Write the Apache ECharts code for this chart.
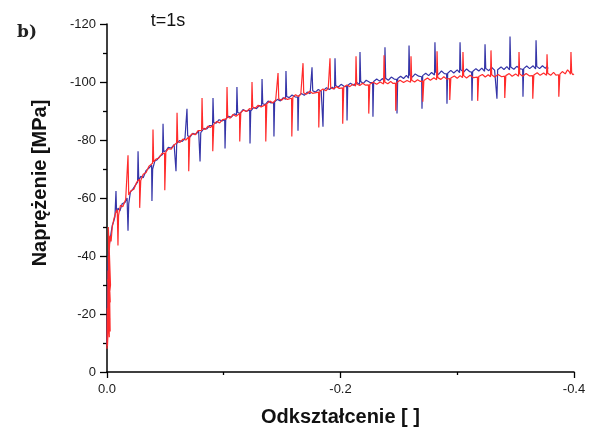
<!DOCTYPE html>
<html><head><meta charset="utf-8">
<script src="https://cdn.jsdelivr.net/npm/echarts@6/dist/echarts.min.js"></script>
<style>html,body{margin:0;padding:0;background:#fff}#c{width:591px;height:432px}</style>
</head><body><div id="c"></div>
<script>
// Axis ticks
const xTicks = [0, -0.2, -0.4];
const yTicks = [0, -20, -40, -60, -80, -100, -120];
const xTitle = 'Odkształcenie [ ]';
const yTitle = 'Naprężenie [MPa]';
const panelLabel = 'b)';
const timeLabel = 't=1s';

// Blue trace: [strain, stress MPa]
const blueData = [
[0.0000,-9.5],[-0.0003,-22],[-0.0006,-31],[-0.0009,-37],[-0.0013,-41],[-0.0018,-43.5],[-0.0026,-45.5],[-0.0035,-48],[-0.0045,-50.5],[-0.0058,-52],[-0.0068,-53.5],
[-0.0073,-54],[-0.0077,-62.4],[-0.0082,-55],[-0.0095,-56.5],[-0.0110,-55.5],[-0.0130,-58],[-0.0155,-58.5],[-0.0172,-60],[-0.0177,-60.5],[-0.0180,-48.7],[-0.0186,-58],[-0.0200,-62],[-0.0220,-63],[-0.0245,-64.5],[-0.0262,-65.5],
[-0.0266,-76.1],[-0.0272,-66],[-0.0290,-67.5],[-0.0310,-67],[-0.0335,-69.5],[-0.0360,-70.3],[-0.0382,-71.4],[-0.0385,-59.0],[-0.0391,-70],[-0.0410,-72.8],[-0.0430,-73.2],[-0.0455,-74.5],[-0.0476,-75],
[-0.0480,-85.6],[-0.0486,-76],[-0.0505,-76.3],[-0.0525,-77.5],[-0.0550,-77.2],[-0.0575,-78.4],[-0.0588,-78.5],[-0.0591,-69.2],[-0.0597,-78.8],[-0.0620,-79.8],[-0.0645,-79.5],[-0.0668,-80.6],[-0.0681,-80.5],
[-0.0685,-90.8],[-0.0691,-81.5],[-0.0710,-81],[-0.0735,-82.3],[-0.0760,-82],[-0.0785,-83],[-0.0794,-82.9],[-0.0797,-72.6],[-0.0803,-82.5],[-0.0830,-84],[-0.0855,-83.8],[-0.0880,-85],[-0.0904,-85],
[-0.0908,-94.5],[-0.0914,-86],[-0.0935,-85.8],[-0.0960,-87],[-0.0985,-86.6],[-0.1008,-87],[-0.1011,-77.1],[-0.1017,-87.2],[-0.1040,-88.2],[-0.1065,-87.9],[-0.1090,-89],[-0.1109,-88.7],
[-0.1113,-98.3],[-0.1119,-89.5],[-0.1140,-89.2],[-0.1165,-90.5],[-0.1190,-89.9],[-0.1222,-90.3],[-0.1225,-78.8],[-0.1231,-90],[-0.1255,-91.2],[-0.1280,-90.8],[-0.1305,-91.9],[-0.1324,-91.7],
[-0.1328,-101.0],[-0.1334,-92.5],[-0.1355,-92.2],[-0.1380,-93.4],[-0.1405,-92.8],[-0.1427,-93],[-0.1430,-81.2],[-0.1436,-93.2],[-0.1460,-94],[-0.1485,-93.5],[-0.1510,-94.6],[-0.1529,-94],
[-0.1533,-103.8],[-0.1539,-95],[-0.1560,-94.6],[-0.1585,-95.5],[-0.1610,-94.9],[-0.1633,-94.8],[-0.1636,-83.2],[-0.1642,-95.2],[-0.1665,-96],[-0.1690,-95.4],[-0.1715,-96.5],[-0.1740,-96],[-0.1752,-96.2],
[-0.1756,-105.1],[-0.1762,-97],[-0.1785,-96.5],[-0.1810,-97.4],[-0.1835,-96.8],[-0.1847,-96.8],[-0.1850,-84.6],[-0.1856,-97.2],[-0.1880,-98],[-0.1905,-97.4],[-0.1930,-98.2],[-0.1949,-97.6],
[-0.1953,-108.2],[-0.1959,-98.8],[-0.1980,-98.2],[-0.2005,-99.2],[-0.2030,-98.5],[-0.2053,-98.4],[-0.2056,-86.7],[-0.2062,-98.8],[-0.2085,-99.6],[-0.2110,-98.9],[-0.2140,-99.8],[-0.2163,-99.1],
[-0.2167,-110.3],[-0.2173,-100.2],[-0.2195,-99.5],[-0.2220,-100.6],[-0.2250,-99.9],[-0.2275,-99.8],[-0.2278,-88.0],[-0.2284,-100.2],[-0.2310,-101],[-0.2335,-100.3],[-0.2360,-101.2],[-0.2377,-100.1],
[-0.2381,-112.0],[-0.2387,-101.3],[-0.2410,-100.6],[-0.2435,-101.7],[-0.2460,-101],[-0.2481,-100.9],[-0.2484,-89.1],[-0.2490,-101.2],[-0.2515,-102],[-0.2540,-101.2],[-0.2565,-102.3],[-0.2583,-101.3],
[-0.2587,-112.6],[-0.2593,-102.4],[-0.2615,-101.7],[-0.2640,-102.8],[-0.2670,-102],[-0.2695,-101.8],[-0.2698,-90.8],[-0.2704,-102.2],[-0.2730,-103],[-0.2755,-102.2],[-0.2780,-103.3],[-0.2805,-102.4],
[-0.2809,-113.7],[-0.2815,-103.4],[-0.2840,-102.6],[-0.2865,-103.8],[-0.2890,-102.9],[-0.2909,-102.8],[-0.2912,-92.5],[-0.2918,-103],[-0.2945,-104],[-0.2970,-103.1],[-0.3000,-104.2],[-0.3020,-103.2],
[-0.3024,-113.7],[-0.3030,-104.2],[-0.3055,-103.4],[-0.3080,-104.5],[-0.3105,-103.6],[-0.3123,-103.4],[-0.3126,-93.5],[-0.3132,-103.6],[-0.3160,-104.6],[-0.3185,-103.8],[-0.3210,-104.8],[-0.3234,-103.7],
[-0.3238,-113.0],[-0.3244,-104.7],[-0.3270,-103.9],[-0.3295,-105],[-0.3320,-104.1],[-0.3337,-104],[-0.3340,-94.2],[-0.3346,-104.2],[-0.3375,-105.2],[-0.3400,-104.3],[-0.3425,-105.3],[-0.3448,-104.2],
[-0.3452,-115.7],[-0.3458,-105.2],[-0.3485,-104.4],[-0.3510,-105.4],[-0.3540,-104.5],[-0.3560,-104.4],[-0.3563,-94.9],[-0.3569,-104.6],[-0.3595,-105.5],[-0.3620,-104.6],[-0.3650,-105.6],[-0.3671,-104.5],
[-0.3675,-114.4],[-0.3681,-105.4],[-0.3705,-104.6],[-0.3730,-105.6],[-0.3755,-104.7],[-0.3770,-105.5],[-0.3777,-104.6]
];

// Red trace: [strain, stress MPa]
const redData = [
[0.0000,-8],[-0.0003,-22],[-0.0001,-12],[-0.0015,-30],[-0.0002,-15],[-0.0022,-26],[-0.0004,-9],[-0.0009,-35],[-0.0026,-18],[-0.0010,-28],[-0.0020,-12],[-0.0012,-40],[-0.0028,-24],[-0.0006,-32],[-0.0024,-20],[-0.0016,-46],[-0.0030,-30],[-0.0008,-22],[-0.0018,-38],[-0.0027,-14],[-0.0011,-50],
[-0.0020,-42],[-0.0026,-47],[-0.0035,-45],[-0.0045,-50],[-0.0060,-53],[-0.0075,-55],[-0.0088,-56],[-0.0091,-55.5],
[-0.0094,-43.6],[-0.0099,-54],[-0.0115,-57.5],[-0.0135,-57],[-0.0160,-59.5],[-0.0176,-60],
[-0.0180,-74.7],[-0.0186,-61],[-0.0205,-62.5],[-0.0230,-63],[-0.0255,-65.5],[-0.0278,-66.5],[-0.0280,-56.6],[-0.0286,-56.8],[-0.0289,-66],[-0.0310,-68.2],[-0.0335,-68.8],[-0.0360,-71],[-0.0390,-72],
[-0.0394,-83.6],[-0.0400,-72.5],[-0.0420,-73.4],[-0.0445,-73.8],[-0.0470,-75.3],[-0.0493,-75.5],[-0.0495,-62.7],[-0.0501,-62.9],[-0.0504,-75.8],[-0.0525,-77],[-0.0550,-76.8],[-0.0575,-78.3],[-0.0596,-79],
[-0.0600,-89.4],[-0.0606,-79.4],[-0.0625,-79.2],[-0.0650,-80.3],[-0.0675,-80],[-0.0698,-81],[-0.0700,-69.2],[-0.0706,-69.4],[-0.0709,-81.3],[-0.0730,-82.2],[-0.0755,-81.8],[-0.0780,-83.2],[-0.0810,-83.3],
[-0.0814,-94.5],[-0.0820,-84],[-0.0840,-83.6],[-0.0865,-84.8],[-0.0885,-84.3],[-0.0904,-85],[-0.0906,-76.1],[-0.0912,-76.3],[-0.0915,-85.4],[-0.0940,-86.4],[-0.0965,-85.9],[-0.0990,-87],[-0.1024,-87.3],
[-0.1028,-98.3],[-0.1034,-88],[-0.1055,-87.5],[-0.1080,-88.8],[-0.1105,-88.2],[-0.1135,-89.1],[-0.1137,-79.5],[-0.1143,-79.7],[-0.1146,-89.5],[-0.1170,-90.3],[-0.1195,-89.8],[-0.1220,-90.8],[-0.1238,-90.6],
[-0.1242,-100.0],[-0.1248,-91.4],[-0.1270,-91],[-0.1295,-92],[-0.1320,-91.4],[-0.1358,-92.2],[-0.1360,-79.5],[-0.1366,-79.8],[-0.1369,-92.5],[-0.1395,-93.4],[-0.1420,-92.8],[-0.1445,-93.8],[-0.1461,-93.5],
[-0.1465,-103.1],[-0.1471,-94.2],[-0.1495,-93.7],[-0.1520,-94.6],[-0.1545,-94],[-0.1581,-94.4],[-0.1583,-81.2],[-0.1589,-81.5],[-0.1592,-94.8],[-0.1615,-95.6],[-0.1640,-95],[-0.1660,-95.8],[-0.1675,-95.5],
[-0.1679,-106.5],[-0.1685,-96.2],[-0.1710,-95.8],[-0.1735,-96.8],[-0.1760,-96.1],[-0.1812,-96.5],[-0.1814,-84.3],[-0.1820,-84.6],[-0.1823,-96.8],[-0.1850,-97.6],[-0.1875,-97],[-0.1895,-97.8],[-0.1906,-97.3],
[-0.1910,-108.2],[-0.1916,-98],[-0.1940,-97.6],[-0.1965,-98.4],[-0.1990,-97.8],[-0.2017,-98],[-0.2019,-85.6],[-0.2025,-85.9],[-0.2028,-98.3],[-0.2055,-99],[-0.2080,-98.4],[-0.2105,-99.2],[-0.2129,-98.6],
[-0.2133,-108.9],[-0.2139,-99.3],[-0.2165,-98.8],[-0.2190,-99.6],[-0.2215,-98.9],[-0.2240,-99],[-0.2242,-89.1],[-0.2248,-89.3],[-0.2251,-99.2],[-0.2280,-99.9],[-0.2310,-99.2],[-0.2340,-100],[-0.2369,-99.3],
[-0.2373,-109.2],[-0.2379,-100],[-0.2405,-99.4],[-0.2430,-100.2],[-0.2450,-99.5],[-0.2471,-99.6],[-0.2473,-90.1],[-0.2479,-90.4],[-0.2482,-99.8],[-0.2510,-100.6],[-0.2540,-99.8],[-0.2570,-100.5],[-0.2600,-99.9],
[-0.2604,-108.9],[-0.2610,-100.6],[-0.2635,-100],[-0.2660,-100.8],[-0.2685,-100.2],[-0.2703,-100.3],[-0.2705,-93.2],[-0.2711,-93.4],[-0.2714,-100.5],[-0.2745,-101.4],[-0.2770,-100.6],[-0.2800,-101.5],[-0.2823,-100.8],
[-0.2827,-110.6],[-0.2833,-101.5],[-0.2860,-100.9],[-0.2885,-101.8],[-0.2910,-101],[-0.2934,-101.2],[-0.2936,-93.8],[-0.2942,-94],[-0.2945,-101.4],[-0.2975,-102.1],[-0.3000,-101.3],[-0.3025,-102.2],[-0.3045,-101.5],
[-0.3049,-110.3],[-0.3055,-102.2],[-0.3080,-101.4],[-0.3110,-102.3],[-0.3140,-101.5],[-0.3173,-101.7],[-0.3175,-93.5],[-0.3181,-93.7],[-0.3184,-101.9],[-0.3215,-102.6],[-0.3240,-101.7],[-0.3265,-102.5],[-0.3285,-101.8],
[-0.3289,-110.9],[-0.3295,-102.5],[-0.3320,-101.7],[-0.3350,-102.6],[-0.3380,-101.8],[-0.3405,-102],[-0.3407,-94.5],[-0.3413,-94.7],[-0.3416,-102.2],[-0.3445,-102.9],[-0.3470,-102],[-0.3500,-102.8],[-0.3525,-102],
[-0.3529,-110.3],[-0.3535,-102.8],[-0.3560,-102],[-0.3590,-102.9],[-0.3620,-102.1],[-0.3645,-102.2],[-0.3647,-94.2],[-0.3653,-94.4],[-0.3656,-102.4],[-0.3685,-103.2],[-0.3710,-102.3],[-0.3740,-103.1],[-0.3765,-102.3],
[-0.3769,-109.6],[-0.3775,-103],[-0.3800,-102.3],[-0.3825,-103.3],[-0.3845,-102.4],[-0.3868,-102.5],[-0.3870,-94.9],[-0.3876,-95.1],[-0.3879,-102.7],[-0.3900,-103.6],[-0.3925,-102.8],[-0.3945,-104.2],[-0.3960,-103.5],[-0.3970,-102.7],
[-0.3974,-110.3],[-0.3980,-103.2],[-0.3990,-102.5],[-0.4000,-102.8]
];

const chart = echarts.init(document.getElementById('c'), null, {renderer:'canvas'});
const FONT = 'Liberation Sans, Arial, sans-serif';
chart.setOption({
  animation: false,
  backgroundColor: '#fff',
  grid: {left:107, right:17, top:24, bottom:56},
  xAxis: {
    type:'value', min: xTicks[2], max: xTicks[0], interval: 0.2, inverse: true,
    axisLine: {onZero:false, lineStyle:{color:'#000', width:1.5}},
    axisTick: {show:true, inside:false, length:6, lineStyle:{color:'#000', width:1.3}},
    minorTick: {show:true, splitNumber:2, length:3, lineStyle:{color:'#000', width:1.3}},
    splitLine: {show:false},
    axisLabel: {color:'#1a1a1a', fontSize:13, fontFamily:FONT, margin:11,
      formatter: v => (Math.abs(v) < 1e-9 ? '0.0' : v.toFixed(1))},
    name: xTitle, nameLocation:'middle', nameGap:35,
    nameTextStyle: {color:'#111', fontSize:20, fontWeight:'bold', fontFamily:FONT}
  },
  yAxis: {
    type:'value', min: yTicks[6], max: yTicks[0], interval: 20, inverse: true,
    axisLine: {onZero:false, lineStyle:{color:'#000', width:1.5}},
    axisTick: {show:true, inside:false, length:7, lineStyle:{color:'#000', width:1.3}},
    minorTick: {show:true, splitNumber:2, length:4, lineStyle:{color:'#000', width:1.3}},
    splitLine: {show:false},
    axisLabel: {color:'#1a1a1a', fontSize:13, fontFamily:FONT, margin:11}
  },
  graphic: [
    {type:'text', x:40, y:183, rotation:Math.PI/2,
      style:{text:yTitle, fill:'#111', font:'bold 20px Liberation Sans, Arial, sans-serif', textAlign:'center', textVerticalAlign:'middle'}},
    {type:'text', x:168, y:21,
      style:{text:timeLabel, fill:'#111', font:'18px Liberation Sans, Arial, sans-serif', textAlign:'center', textVerticalAlign:'middle'}},
    {type:'text', x:17, y:33,
      style:{text:panelLabel, fill:'#222', font:'bold 17px DejaVu Serif, serif', textAlign:'left', textVerticalAlign:'middle'}}
  ],
  series: [
    {type:'line', data: blueData, showSymbol:false, symbol:'none', lineStyle:{color:'#3535a8', width:1.2}, z:2},
    {type:'line', data: redData, showSymbol:false, symbol:'none', lineStyle:{color:'#ff2b2b', width:1.2}, z:3}
  ]
});
</script></body></html>
